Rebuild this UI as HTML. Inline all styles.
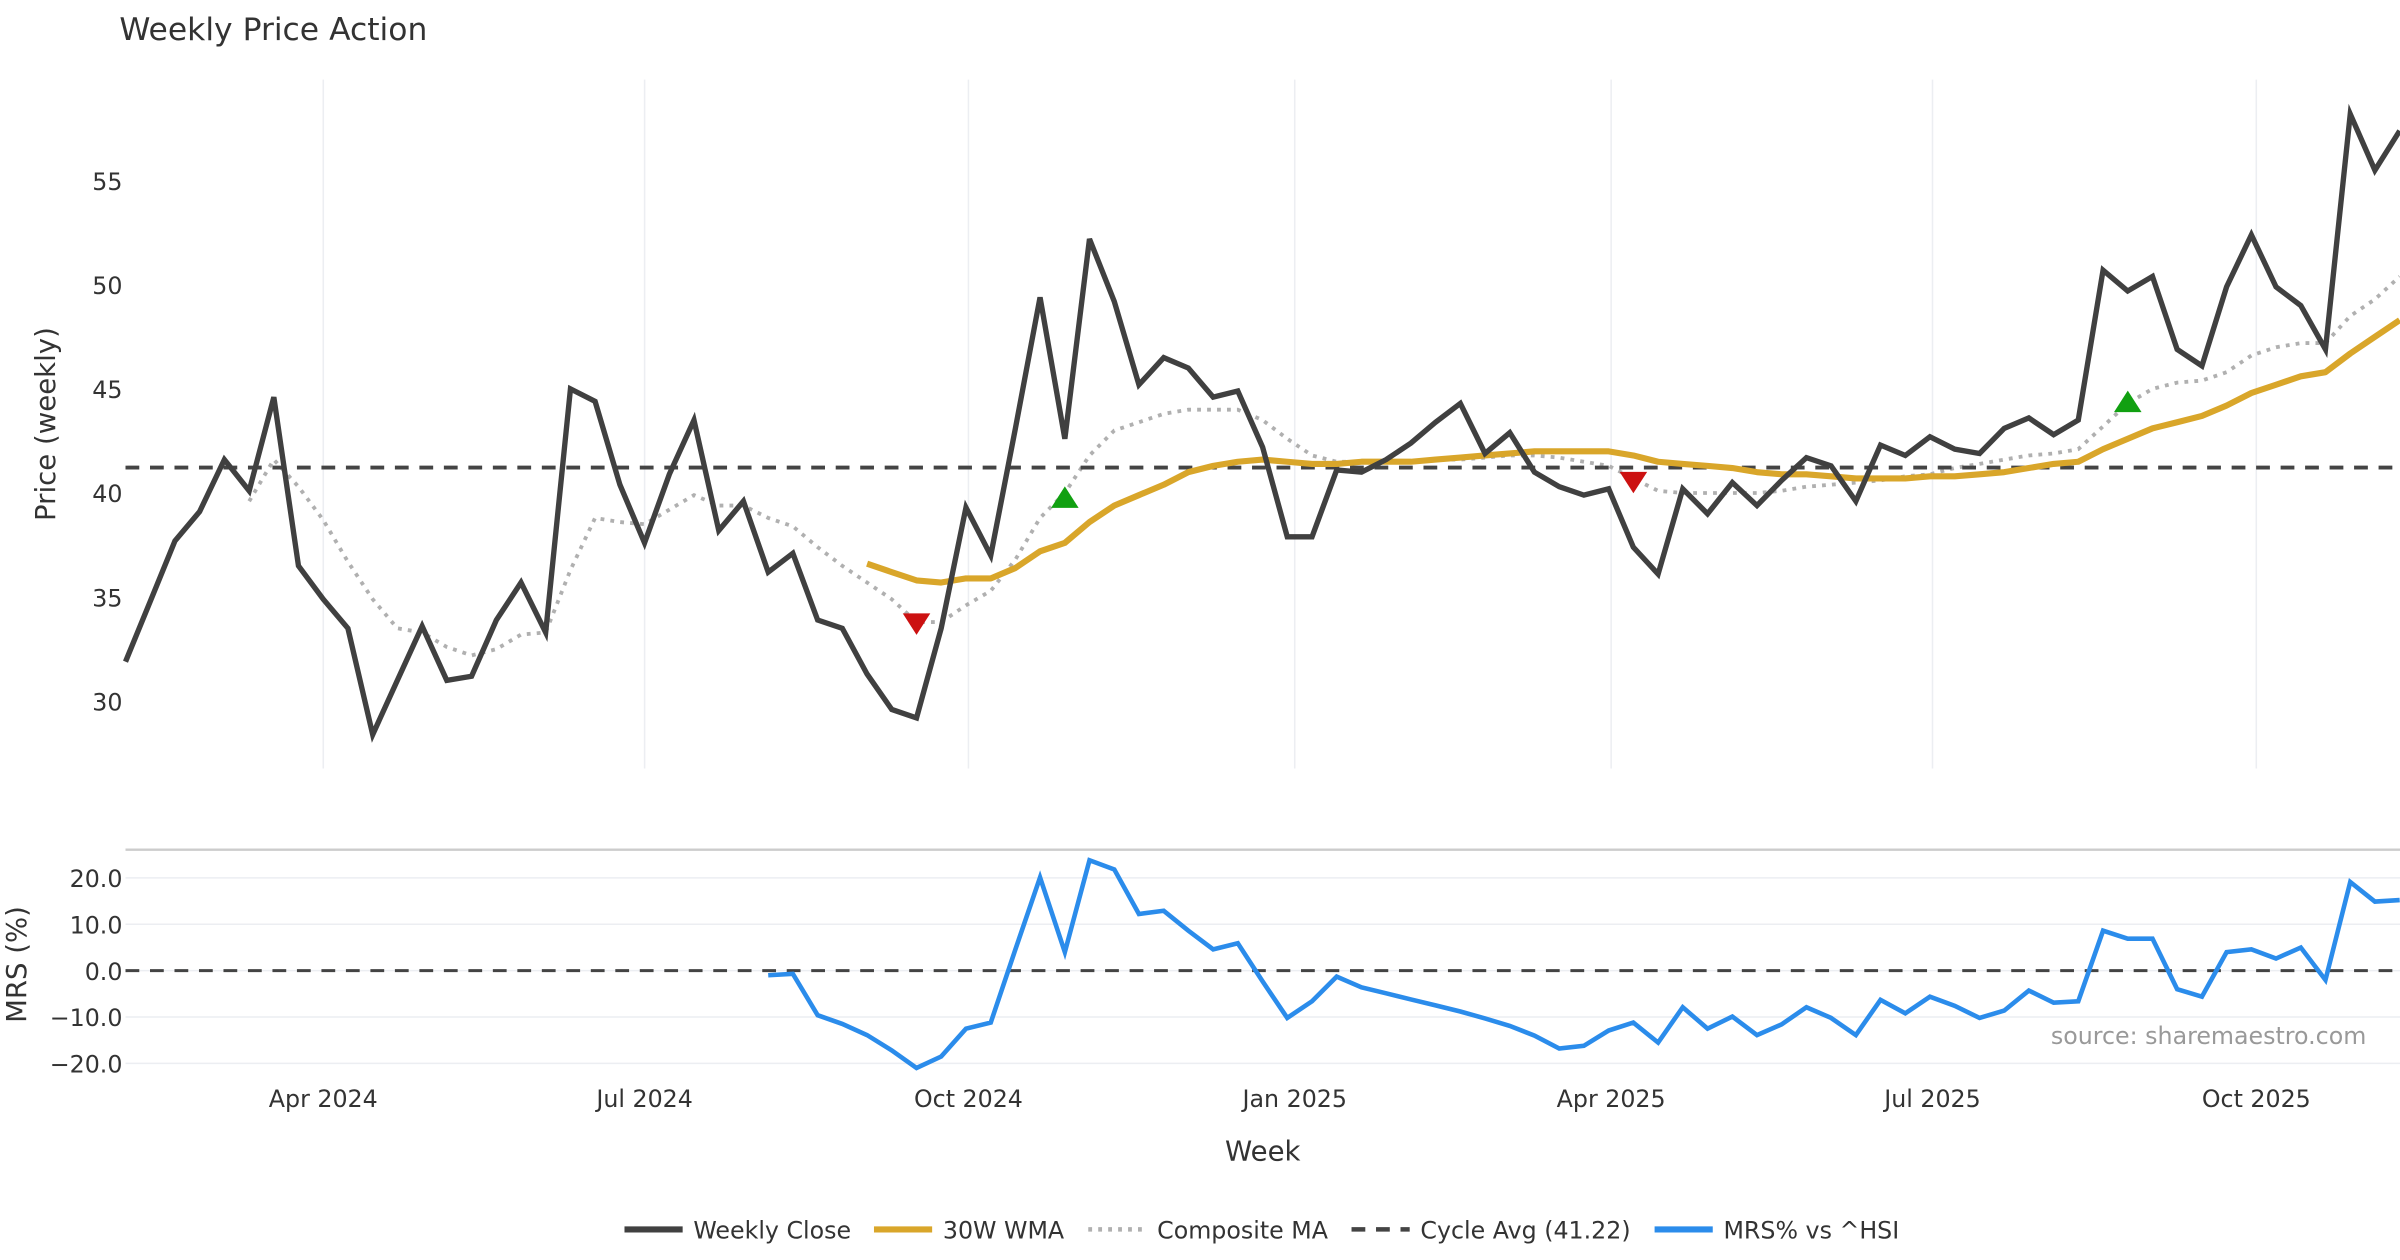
<!DOCTYPE html>
<html><head><meta charset="utf-8">
<style>
html,body{margin:0;padding:0;background:#fff;}
svg{display:block;font-family:"DejaVu Sans","Liberation Sans",sans-serif;}
</style></head>
<body>
<svg id="chart" width="2400" height="1260" viewBox="0 0 1568 823" preserveAspectRatio="none" xmlns="http://www.w3.org/2000/svg">
<text x="78" y="26" font-size="20.5" fill="#333">Weekly Price Action</text>
<g id="grid"></g>
<g id="toplayer"></g>
<g id="bottomlayer"></g>
<g id="axes"></g>
<text x="1546" y="682" font-size="15.5" fill="#999" text-anchor="end">source: sharemaestro.com</text>
<text x="825" y="758" font-size="18" fill="#333" text-anchor="middle">Week</text>
<text transform="translate(36,277) rotate(-90)" font-size="18" fill="#333" text-anchor="middle">Price (weekly)</text>
<text transform="translate(17,630) rotate(-90)" font-size="18" fill="#333" text-anchor="middle">MRS (%)</text>
<g id="legend"></g>
</svg>
<script>
const closeVals=[31.9,34.8,37.7,39.1,41.6,40.1,44.6,36.5,34.9,33.5,28.4,31.0,33.6,31.0,31.2,33.9,35.7,33.3,45.0,44.4,40.4,37.6,40.9,43.5,38.2,39.6,36.2,37.1,33.9,33.5,31.3,29.6,29.2,33.5,39.3,37.0,43.1,49.4,42.6,52.2,49.2,45.2,46.5,46.0,44.6,44.9,42.2,37.9,37.9,41.1,41.0,41.6,42.4,43.4,44.3,41.9,42.9,41.0,40.3,39.9,40.2,37.4,36.1,40.2,39.0,40.5,39.4,40.6,41.7,41.3,39.6,42.3,41.8,42.7,42.1,41.9,43.1,43.6,42.8,43.5,50.7,49.7,50.4,46.9,46.1,49.9,52.4,49.9,49.0,46.9,58.2,55.5,57.4];
const wmaStart=30;
const wmaVals=[36.6,36.2,35.8,35.7,35.9,35.9,36.4,37.2,37.6,38.6,39.4,39.9,40.4,41.0,41.3,41.5,41.6,41.5,41.4,41.4,41.5,41.5,41.5,41.6,41.7,41.8,41.9,42.0,42.0,42.0,42.0,41.8,41.5,41.4,41.3,41.2,41.0,40.9,40.9,40.8,40.7,40.7,40.7,40.8,40.8,40.9,41.0,41.2,41.4,41.5,42.1,42.6,43.1,43.4,43.7,44.2,44.8,45.2,45.6,45.8,46.7,47.5,48.3];
const compStart=5;
const compVals=[39.6,41.6,40.3,38.7,36.7,34.9,33.5,33.3,32.6,32.2,32.5,33.2,33.3,36.3,38.8,38.6,38.5,39.2,39.9,39.4,39.4,38.8,38.4,37.4,36.5,35.7,34.9,33.8,33.8,34.6,35.3,36.8,38.8,40.0,41.8,43.0,43.4,43.8,44.0,44.0,44.0,43.5,42.6,41.8,41.5,41.5,41.5,41.5,41.6,41.6,41.7,41.8,41.8,41.7,41.5,41.3,40.7,40.1,40.0,40.0,40.0,40.0,40.1,40.3,40.4,40.5,40.6,40.8,40.9,41.2,41.4,41.6,41.8,41.9,42.1,43.2,44.3,45.0,45.3,45.4,45.8,46.6,47.0,47.2,47.2,48.5,49.3,50.4];
const cycleAvg=41.22;
const mrsStart=26;
const mrsVals=[-1,-0.7,-9.6,-11.5,-13.9,-17.2,-21,-18.5,-12.5,-11.2,4.6,20.1,4.0,23.8,21.8,12.2,12.9,8.6,4.6,5.9,-2.3,-10.2,-6.6,-1.3,-3.6,-4.9,-6.2,-7.5,-8.8,-10.3,-11.9,-14.0,-16.8,-16.2,-12.9,-11.2,-15.5,-7.9,-12.5,-9.9,-13.9,-11.6,-7.9,-10.2,-13.9,-6.3,-9.2,-5.6,-7.6,-10.2,-8.6,-4.3,-6.9,-6.6,8.6,6.9,6.9,-4.0,-5.6,4.0,4.6,2.6,5.0,-2.0,19.1,14.9,15.2];
const sellIdx=[32,61];
const sellVals=[33.7,40.5];
const buyIdx=[38,81];
const buyVals=[39.8,44.4];
const priceTicks=[30,35,40,45,50,55];
const mrsTicks=[20,10,0,-10,-20];
const monthTicks=["Apr 2024","Jul 2024","Oct 2024","Jan 2025","Apr 2025","Jul 2025","Oct 2025"];
const monthWeekPos=[8,21,34.1,47.3,60.1,73.1,86.2];

const NS="http://www.w3.org/2000/svg";
const xS=i=>82+i*16.15;
const yP=v=>118+(55-v)*13.6;
const yM=v=>634-v*3.03;
function mk(tag,attrs,parent){const e=document.createElementNS(NS,tag);for(const k in attrs)e.setAttribute(k,attrs[k]);parent.appendChild(e);return e;}
const gGrid=document.getElementById('grid');
const gTop=document.getElementById('toplayer');
const gBot=document.getElementById('bottomlayer');
const gAxes=document.getElementById('axes');
const gLeg=document.getElementById('legend');

monthWeekPos.forEach((w,k)=>{
  const x=xS(w);
  const g=mk('line',{x1:x,x2:x,y1:52,y2:502,stroke:'#eceef2','stroke-width':1},gGrid);
  
  
  const t=mk('text',{x:x,y:723,'font-size':15.5,fill:'#333','text-anchor':'middle'},gAxes);
  t.textContent=monthTicks[k];
  
  
});
priceTicks.forEach(v=>{
  const t=mk('text',{x:80,y:yP(v)+6,'font-size':15.5,fill:'#333','text-anchor':'end'},gAxes);
  t.textContent=v;
  
  
});
mrsTicks.forEach(v=>{
  const g=mk('line',{x1:82,x2:1568,y1:yM(v),y2:yM(v),stroke:'#eceef2','stroke-width':1},gGrid);
  
  
  const t=mk('text',{x:80,y:yM(v)+6,'font-size':15.5,fill:'#333','text-anchor':'end'},gAxes);
  t.textContent=v.toFixed(1).replace('-','\u2212');
  
  
});
const border=mk('line',{x1:82,x2:1568,y1:555,y2:555,stroke:'#cccccc','stroke-width':1.5},gGrid);



function pts(vals,start,yf){return vals.map((v,i)=>xS(i+start).toFixed(1)+','+yf(v).toFixed(1)).join(' ');}
const comp=mk('polyline',{points:pts(compVals,compStart,yP),fill:'none',stroke:'#b0b0b0','stroke-width':2.5,'stroke-dasharray':'2.5 4'},gTop);


const cyc=mk('line',{x1:82,x2:1568,y1:yP(cycleAvg),y2:yP(cycleAvg),stroke:'#444','stroke-width':2.5,'stroke-dasharray':'9 7'},gTop);


const wma=mk('polyline',{points:pts(wmaVals,wmaStart,yP),fill:'none',stroke:'#d9a62a','stroke-width':4,'stroke-linejoin':'round'},gTop);


const cl=mk('polyline',{points:pts(closeVals,0,yP),fill:'none',stroke:'#404040','stroke-width':3.5},gTop);


sellIdx.forEach((i,k)=>{const x=xS(i),y=yP(sellVals[k]);
  const m=mk('polygon',{points:`${x-9},${y-7} ${x+9},${y-7} ${x},${y+7}`,fill:'#cc1111'},gTop);
  
  });
buyIdx.forEach((i,k)=>{const x=xS(i),y=yP(buyVals[k]);
  const m=mk('polygon',{points:`${x-9},${y+7} ${x+9},${y+7} ${x},${y-7}`,fill:'#11a011'},gTop);
  
  });

const zero=mk('line',{x1:82,x2:1568,y1:yM(0),y2:yM(0),stroke:'#444','stroke-width':2,'stroke-dasharray':'9 7'},gBot);


const mrs=mk('polyline',{points:pts(mrsVals,mrsStart,yM),fill:'none',stroke:'#2b8ceb','stroke-width':3},gBot);



const legItems=[["Weekly Close",408,'#404040',4,''],["30W WMA",571,'#d9a62a',4,''],["Composite MA",711,'#b0b0b0',3,'2.5 4'],["Cycle Avg (41.22)",883,'#444',3,'9 7'],["MRS% vs ^HSI",1081,'#2b8ceb',4,'']];
legItems.forEach(([lab,x,c,w,d])=>{
  const l=mk('line',{x1:x,x2:x+38,y1:803,y2:803,stroke:c,'stroke-width':w},gLeg);
  if(d)l.setAttribute('stroke-dasharray',d);
  
  
  const t=mk('text',{x:x+45,y:809,'font-size':15.5,fill:'#333'},gLeg);
  t.textContent=lab;
  
  
});
</script>
</body></html>
